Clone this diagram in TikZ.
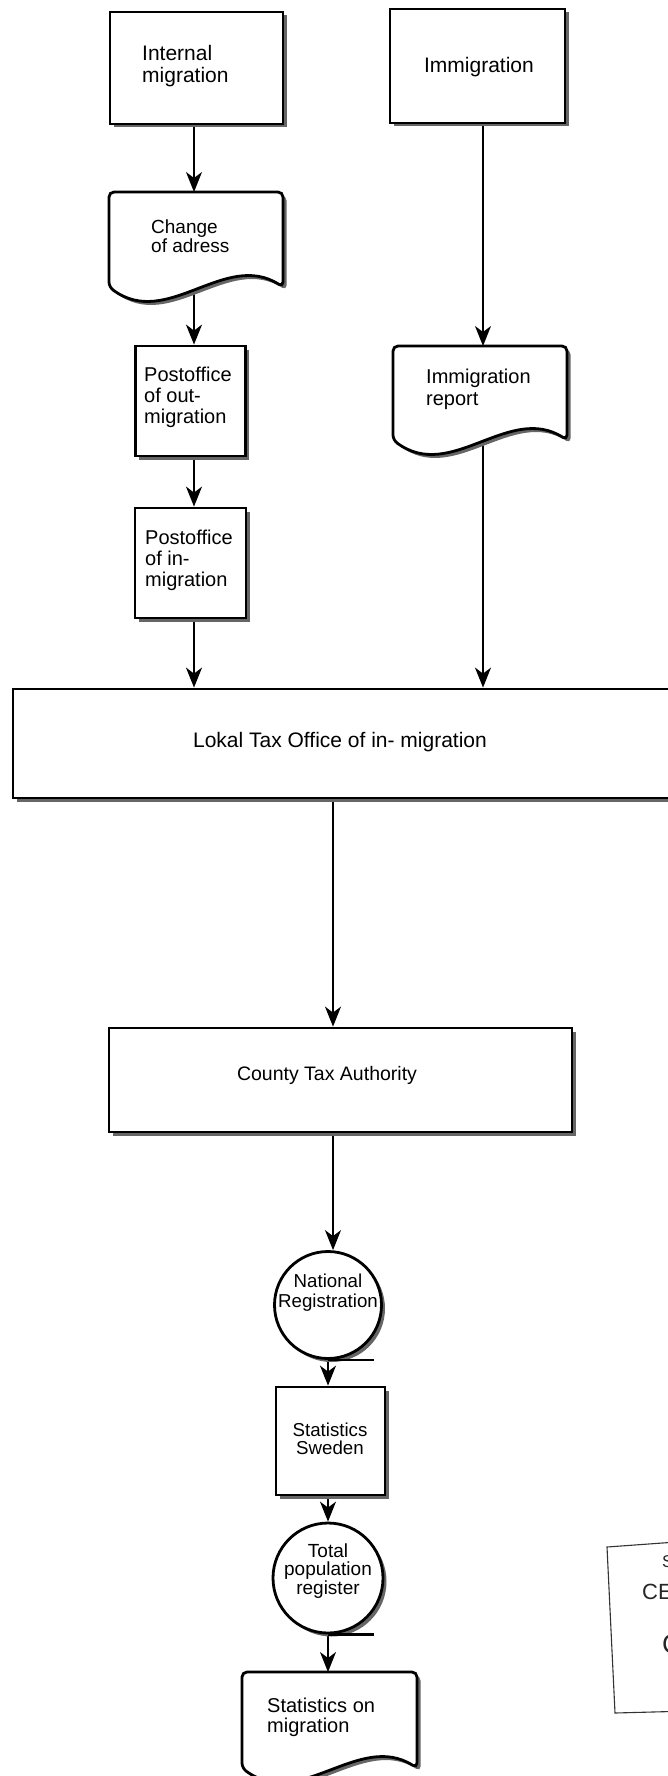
\documentclass[tikz,border=0pt]{standalone}
\usepackage{fontspec}
\setmainfont{Liberation Sans}
\usetikzlibrary{arrows.meta,shadows,calc}
\pgfdeclarelayer{paper}
\pgfdeclarelayer{bg}
\pgfsetlayers{paper,bg,main}
\begin{document}
\begin{tikzpicture}[x=1pt,y=-1pt,
  dropsh/.style={drop shadow={shadow xshift=3.5pt,shadow yshift=-3.5pt,fill=black!60,opacity=1}},
  procbox/.style={draw,line width=2.8pt,fill=white,inner sep=0pt,dropsh},
  tapecirc/.style={circle,draw,line width=2.8pt,fill=white,inner sep=0pt,dropsh},
  docline/.style={draw,line width=2.8pt,fill=white,rounded corners=5pt,dropsh},
  ghost/.style={inner sep=0pt,outer sep=0pt},
  lbl/.style={inner sep=0pt,align=left},
  clbl/.style={inner sep=0pt,align=center},
  arr/.style={line width=1.7pt,-{Stealth[length=20pt,width=16pt,inset=6pt]}},
  tail/.style={line width=2.8pt},
]
\useasboundingbox (0,0) rectangle (667,1776);
\begin{pgfonlayer}{paper}
\fill[white] (0,0) rectangle (667,1776);
\end{pgfonlayer}

% ---------- process boxes ----------
\node[procbox,minimum width=173pt,minimum height=112pt] (int) at (196.5,68) {};
\node[procbox,minimum width=175pt,minimum height=114pt] (imm) at (477.5,66) {};
\node[procbox,minimum width=110pt,minimum height=110pt] (pout) at (190.5,401) {};
\node[procbox,minimum width=111pt,minimum height=110pt] (pin) at (190.5,563) {};
\node[procbox,minimum width=707pt,minimum height=109pt] (lokal) at (366.5,743.5) {};
\node[procbox,minimum width=463pt,minimum height=104pt] (county) at (340.5,1080) {};
\node[procbox,minimum width=109pt,minimum height=108pt] (ssw) at (330.5,1441) {};

% ---------- tape circles ----------
\node[tapecirc,minimum size=107pt] (nat) at (328,1305) {};
\draw[tail] (nat.south) -- ++(46,0);
\node[tapecirc,minimum size=110pt] (tot) at (328,1578) {};
\draw[tail] (tot.south) -- ++(46,0);

% ---------- documents ----------
\node[ghost,minimum width=174pt,minimum height=95pt] (chg) at (196,239.5) {};
\path[docline] (109,192) -- (283,192) -- (283,287)
  .. controls (225,250) and (167,330) .. (109,287) -- cycle;
\node[ghost,minimum width=174pt,minimum height=94pt] (irep) at (480,393) {};
\path[docline] (393,346) -- (567,346) -- (567,440)
  .. controls (509,403) and (451,483) .. (393,440) -- cycle;
\node[ghost,minimum width=175pt,minimum height=96pt] (smig) at (329.5,1720) {};
\path[docline] (242,1672) -- (417,1672) -- (417,1768)
  .. controls (359,1731) and (300,1811) .. (242,1768) -- cycle;

% ---------- labels ----------
\node[lbl,anchor=west,font=\fontsize{21}{22}\selectfont] (tint) at (142,66) {Internal\\migration};
\node[clbl,font=\fontsize{21}{22}\selectfont] (timm) at (479,67) {Immigration};
\node[lbl,anchor=west,font=\fontsize{19}{18.5}\selectfont] (tchg) at (151,236) {Change\\of adress};
\node[lbl,anchor=west,font=\fontsize{20}{21}\selectfont] (tpout) at (144,397) {Postoffice\\of out-\\migration};
\node[lbl,anchor=west,font=\fontsize{20}{21}\selectfont] (tpin) at (145,560) {Postoffice\\of in-\\migration};
\node[lbl,anchor=west,font=\fontsize{20}{22}\selectfont] (tirep) at (426,389) {Immigration\\report};
\node[clbl,font=\fontsize{21}{22}\selectfont] (tlok) at (340,742) {Lokal Tax Office of in- migration};
\node[clbl,font=\fontsize{19.5}{21}\selectfont] (tcty) at (327,1075) {County Tax Authority};
\node[clbl,font=\fontsize{18.7}{20}\selectfont] (tnat) at (328,1293) {National\\Registration};
\node[clbl,font=\fontsize{18.7}{18}\selectfont] (tssw) at (330,1439) {Statistics\\Sweden};
\node[clbl,font=\fontsize{19}{18.5}\selectfont] (ttot) at (328,1571) {Total\\population\\register};
\node[lbl,anchor=west,font=\fontsize{20}{20}\selectfont] (tsm) at (267,1717) {Statistics on\\migration};

% ---------- stamp (cut off at right edge) ----------
\draw[line width=1.1pt,black!80] (690,1541) -- (607,1547) -- (615,1713) -- (690,1711);
\node[anchor=west,inner sep=0pt,font=\fontsize{17}{17}\selectfont,text=black!85] (st1) at (662,1562) {S};
\node[anchor=west,inner sep=0pt,font=\fontsize{22}{22}\selectfont,text=black!85] (st2) at (642,1592) {CE};
\node[anchor=west,inner sep=0pt,font=\fontsize{27}{27}\selectfont,text=black!85] (st3) at (662,1644) {C};

% ---------- connectors ----------
\coordinate (lx) at (194,0);
\coordinate (rx) at (483,0);
\coordinate (sx) at (333,0);
\begin{pgfonlayer}{bg}
\draw[arr] (int.south -| lx) -- (chg.north -| lx);
\draw[arr] (chg.center -| lx) -- (pout.north -| lx);
\draw[arr] (pout.south -| lx) -- (pin.north -| lx);
\draw[arr] (pin.south -| lx) -- (lokal.north -| lx);
\draw[arr] (imm.south -| rx) -- (irep.north -| rx);
\draw[arr] (irep.center -| rx) -- (lokal.north -| rx);
\draw[arr] (lokal.south -| sx) -- (county.north -| sx);
\draw[arr] (county.south -| sx) -- (nat.north -| sx);
\draw[arr] (nat.south) -- (ssw.north -| nat.south);
\draw[arr] (ssw.south -| nat.south) -- (tot.north);
\draw[arr] (tot.south) -- (smig.north -| tot.south);
\end{pgfonlayer}
\end{tikzpicture}
\end{document}
